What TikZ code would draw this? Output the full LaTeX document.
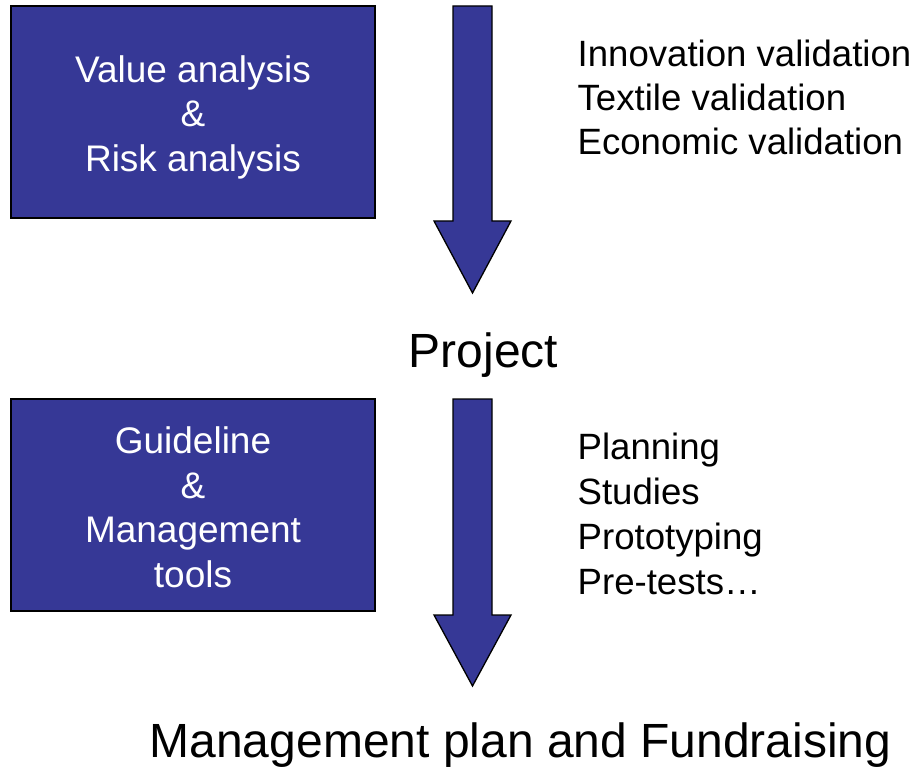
\documentclass[tikz,border=0pt]{standalone}
\usepackage{fontspec}
\setmainfont{Liberation Sans}
\definecolor{mlnavy}{RGB}{54,56,150}
\usetikzlibrary{positioning}

\begin{document}
\begin{tikzpicture}[x=1pt,y=-1pt,line width=1.3pt]
  \useasboundingbox (0,0) rectangle (917,767);
  %% Left boxes
  \node[draw,fill=mlnavy,minimum width=364pt,minimum height=212pt]
        (valbox) at (193,112) {};
  \node[text=white,inner sep=0pt,align=center,
        font=\fontsize{37}{44.5}\selectfont]
        (valtext) at ([yshift=-5pt]valbox.center)
        {Value analysis\\\&\\Risk analysis};
  \node[draw,fill=mlnavy,minimum width=364pt,minimum height=212pt]
        (guidebox) at (193,505) {};
  \node[text=white,inner sep=0pt,align=center,
        font=\fontsize{37}{44.5}\selectfont]
        (guidetext) at ([yshift=-2.5pt]guidebox.center)
        {Guideline\\\&\\Management\\tools};
  %% Block arrows
  \filldraw[fill=mlnavy,draw=black,line join=miter]
        (453,6) -- (492,6) -- (492,221) -- (511,221) -- (472.5,293)
        -- (434,221) -- (453,221) -- cycle;
  \filldraw[fill=mlnavy,draw=black,line join=miter]
        (453,399) -- (492,399) -- (492,615) -- (511,615) -- (472.5,686)
        -- (434,615) -- (453,615) -- cycle;
  %% Results
  \node[anchor=base,inner sep=0pt,font=\fontsize{48}{56}\selectfont]
        (project) at (483.5,367) {Project};
  \node[anchor=base,inner sep=0pt,font=\fontsize{48}{56}\selectfont]
        (plan) at (520.5,757) {Management plan and Fundraising};
  %% Validation lists
  \node[anchor=base west,inner sep=0pt,align=left,
        font=\fontsize{36.6}{44}\selectfont]
        (vallist) at (577,155)
        {Innovation validation\\Textile validation\\Economic validation};
  \node[anchor=base west,inner sep=0pt,align=left,
        font=\fontsize{36.6}{45}\selectfont]
        (tasklist) at (577,594)
        {Planning\\Studies\\Prototyping\\Pre-tests…};
\end{tikzpicture}
\end{document}
